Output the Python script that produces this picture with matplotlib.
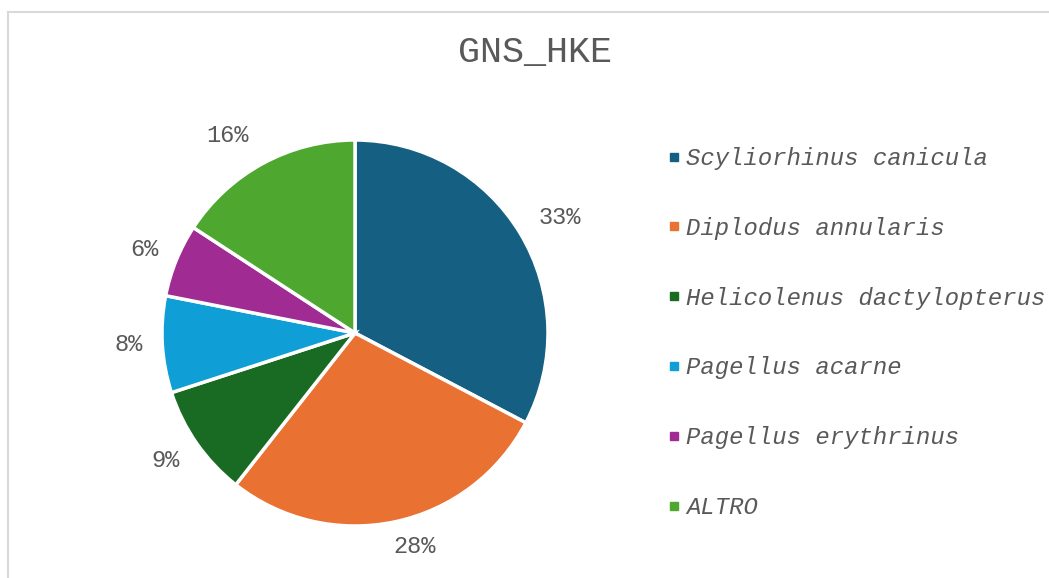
import matplotlib
matplotlib.use('Agg')
import matplotlib.pyplot as plt
from matplotlib.lines import Line2D

# --- Data ---
species = ["Scyliorhinus canicula", "Diplodus annularis", "Helicolenus dactylopterus",
           "Pagellus acarne", "Pagellus erythrinus", "ALTRO"]
shares = [32.7, 27.9, 9.4, 8.1, 6.1, 15.8]
colors = ["#156082", "#E97132", "#196B24", "#0F9ED5", "#A02B93", "#4EA72E"]
# Excel "best fit" data-label spots, in pie-radius units
label_xy = [(1.063, 0.601), (0.311, -1.104), (-0.984, -0.663),
            (-1.171, -0.062), (-1.093, 0.435), (-0.663, 1.021)]

TEXT = '#595959'
FONT = 'Liberation Mono'
W, H = 1049, 578

fig = plt.figure(figsize=(W / 100, H / 100), dpi=100)
fig.patch.set_facecolor('white')

# chart-area border (top and left visible)
bx, by = 8 / W, 1 - 12 / H
fig.add_artist(Line2D([bx, 1.0], [by, by], color='#d9d9d9', lw=1.5))
fig.add_artist(Line2D([bx, bx], [0, by], color='#d9d9d9', lw=1.5))

fig.text(535 / W, 1 - 53 / H, "GNS_HKE", family=FONT, fontsize=26.5, color=TEXT,
         ha='center', va='center')

cx, cy, r = 355, 333, 193
ax = fig.add_axes([(cx - r) / W, (H - cy - r) / H, 2 * r / W, 2 * r / H])
wedges, _, autotexts = ax.pie(
    shares, colors=colors, startangle=90, counterclock=False,
    autopct=lambda p: f"{p:.0f}%", pctdistance=1.19,
    wedgeprops=dict(edgecolor='white', linewidth=2.5),
    textprops=dict(family=FONT, fontsize=17, color=TEXT))
for t, xy in zip(autotexts, label_xy):
    t.set_position(xy)
ax.set_xlim(-1, 1)
ax.set_ylim(-1, 1)
ax.set_aspect('equal')
ax.axis('off')

handles = [Line2D([], [], marker='s', linestyle='none', markersize=6,
                  markerfacecolor=c, markeredgecolor=c) for c in colors]
leg = fig.legend(handles, species, loc='upper left',
                 bbox_to_anchor=(655 / W, 1 - 135 / H), frameon=False,
                 prop=dict(family=FONT, style='italic', size=17.2),
                 labelcolor=TEXT, handlelength=0.6, handletextpad=0.2,
                 labelspacing=1.96, borderpad=0)

fig.savefig('out.png', dpi=100, facecolor='white')
